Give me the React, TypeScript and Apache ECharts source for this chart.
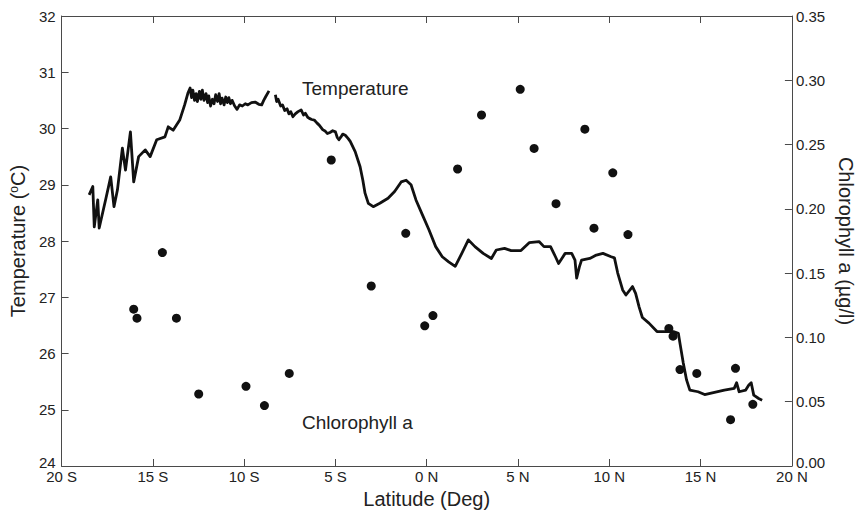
import React, { useEffect, useRef } from "react";
import * as echarts from "echarts";

// Temperature trace (latitude in degrees, negative = S; temperature in °C). null = data gap.
const tempLat = [
  -18.49, -18.29, -18.21, -18.02, -17.94, -17.57, -17.31, -17.13, -16.94, -16.67,
  -16.5, -16.23, -16.05, -15.78, -15.42, -15.15, -14.79, -14.34, -14.16, -13.89,
  -13.53, -13.26, -13.08, -12.96, -12.88, -12.81, -12.72, -12.63, -12.56, -12.45,
  -12.37, -12.29, -12.2, -12.09, -12.0, -11.94, -11.84, -11.74, -11.65, -11.56,
  -11.46, -11.37, -11.29, -11.21, -11.1, -11.01, -10.92, -10.84, -10.75, -10.66,
  -10.52, -10.39, -10.25, -10.1, -9.94, -9.8, -9.6, -9.4, -9.2, -9.04,
  -8.93, -8.83, -8.64, -8.45, -8.29, -8.22, -8.14, -8.0, -7.9, -7.78,
  -7.65, -7.55, -7.45, -7.33, -7.2, -7.05, -6.88, -6.75, -6.65, -6.52,
  -6.43, -6.3, -6.16, -6.02, -5.89, -5.7, -5.55, -5.44, -5.3, -5.15,
  -5.0, -4.9, -4.81, -4.7, -4.6, -4.46, -4.3, -4.19, -3.92, -3.65,
  -3.5, -3.38, -3.2, -2.93, -2.57, -2.12, -1.76, -1.4, -1.13, -0.86,
  -0.59, -0.23, 0.12, 0.49, 0.85, 1.2, 1.56, 1.92, 2.28, 2.64,
  3.09, 3.54, 3.81, 4.26, 4.62, 5.16, 5.61, 6.15, 6.42, 6.78,
  7.05, 7.22, 7.4, 7.58, 7.94, 8.12, 8.21, 8.36, 8.48, 8.93,
  9.29, 9.65, 10.1, 10.28, 10.46, 10.73, 10.91, 11.27, 11.44, 11.63,
  11.81, 12.17, 12.61, 13.06, 13.51, 13.78, 13.87, 14.05, 14.23, 14.41,
  14.86, 15.22, 15.76, 16.3, 16.84, 16.97, 17.11, 17.47, 17.64, 17.77,
  17.91, 18.18, 18.37,
];
const tempVal = [
  28.82, 28.97, 28.25, 28.73, 28.23, 28.76, 29.14, 28.61, 28.91, 29.65,
  29.26, 29.94, 29.05, 29.5, 29.62, 29.5, 29.8, 29.85, 30.03, 29.97,
  30.15, 30.42, 30.63, 30.72, 30.55, 30.68, 30.5, 30.62, 30.48, 30.66,
  30.52, 30.68, 30.5, 30.62, 30.46, 30.58, 30.4, 30.52, 30.44, 30.6,
  30.48, 30.62, 30.44, 30.54, 30.42, 30.56, 30.46, 30.55, 30.44, 30.5,
  30.4, 30.34, 30.42, 30.4, 30.44, 30.42, 30.46, 30.47, 30.43, 30.42,
  30.5, 30.56, 30.67, null, 30.6, 30.48, 30.52, 30.4, 30.42, 30.32,
  30.35, 30.26, 30.3, 30.21, 30.26, 30.3, 30.33, 30.24, 30.27, 30.2,
  30.18, 30.16, 30.15, 30.1, 30.06, 29.98, 29.95, 29.91, 29.93, 29.96,
  29.94, 29.84, 29.8, 29.85, 29.9, 29.88, 29.82, 29.77, 29.59, 29.32,
  29.08, 28.85, 28.67, 28.61, 28.67, 28.76, 28.88, 29.05, 29.08, 29.0,
  28.73, 28.46, 28.2, 27.9, 27.72, 27.63, 27.55, 27.78, 28.02, 27.9,
  27.78, 27.69, 27.84, 27.87, 27.83, 27.83, 27.97, 27.99, 27.9, 27.9,
  27.72, 27.6, 27.69, 27.78, 27.78, 27.66, 27.34, 27.54, 27.66, 27.69,
  27.75, 27.78, 27.72, 27.7, 27.43, 27.13, 27.04, 27.19, 27.07, 26.83,
  26.64, 26.54, 26.39, 26.39, 26.39, 26.36, 26.18, 25.83, 25.53, 25.35,
  25.32, 25.27, 25.31, 25.35, 25.38, 25.48, 25.32, 25.35, 25.44, 25.48,
  25.26, 25.2, 25.17,
];

// Chlorophyll a samples (latitude, µg/l)
const chlLat = [
  -16.05, -15.87, -14.48, -13.71, -12.49, -9.9, -8.89, -7.53, -5.23, -3.04,
  -1.15, -0.11, 0.34, 1.69, 3.0, 5.12, 5.88, 7.08, 8.66, 9.16,
  10.19, 11.02, 13.26, 13.49, 13.87, 14.79, 16.64, 16.91, 17.86,
];
const chlVal = [
  0.122, 0.115, 0.166, 0.115, 0.056, 0.062, 0.047, 0.072, 0.238, 0.14,
  0.181, 0.109, 0.117, 0.231, 0.273, 0.293, 0.247, 0.204, 0.262, 0.185,
  0.228, 0.18, 0.107, 0.101, 0.075, 0.072, 0.036, 0.076, 0.048,
];

const FONT = "'Liberation Sans', Arial, Helvetica, sans-serif";
const INK = "#111111";
const AXIS = "#4a4a4a";

function latLabel(v: number): string {
  if (v < 0) return `${-v} S`;
  return `${v} N`;
}

export default function App() {
  const ref = useRef<HTMLDivElement>(null);

  useEffect(() => {
    if (!ref.current) return;
    const chart = echarts.init(ref.current, undefined, { renderer: "svg" });

    const tempData = tempLat.map((x, i) => [x, tempVal[i]]);
    const chlData = chlLat.map((x, i) => [x, chlVal[i]]);

    const tickCommon = { show: true, inside: true, length: 7, lineStyle: { color: AXIS, width: 1 } };
    const lineCommon = { show: true, onZero: false, lineStyle: { color: AXIS, width: 1 } };

    chart.setOption({
      animation: false,
      backgroundColor: "#ffffff",
      grid: { left: 60, right: 62, top: 16, bottom: 48, containLabel: false },
      xAxis: [
        {
          type: "value",
          min: -20,
          max: 20,
          interval: 5,
          position: "bottom",
          axisLine: lineCommon,
          axisTick: tickCommon,
          splitLine: { show: false },
          axisLabel: {
            formatter: latLabel,
            fontFamily: FONT,
            fontSize: 15,
            color: "#222",
            margin: 3,
          },
          name: "Latitude (Deg)",
          nameLocation: "middle",
          nameGap: 19,
          nameTextStyle: { fontFamily: FONT, fontSize: 20, color: "#222" },
        },
        {
          type: "value",
          min: -20,
          max: 20,
          interval: 5,
          position: "top",
          axisLine: lineCommon,
          axisTick: tickCommon,
          splitLine: { show: false },
          axisLabel: { show: false },
        },
      ],
      yAxis: [
        {
          type: "value",
          min: 24,
          max: 32,
          interval: 1,
          position: "left",
          axisLine: lineCommon,
          axisTick: tickCommon,
          splitLine: { show: false },
          axisLabel: {
            formatter: (v: number) => (v === 24 ? "{lo|24}" : String(v)),
            fontFamily: FONT,
            fontSize: 15,
            color: "#222",
            margin: 6,
            rich: { lo: { fontFamily: FONT, fontSize: 15, color: "#222", padding: [0, 0, 8, 0] } },
          },
          name: "Temperature ({sup|o}C)",
          nameLocation: "middle",
          nameGap: 27,
          nameRotate: 90,
          nameTextStyle: {
            fontFamily: FONT,
            fontSize: 20,
            color: "#222",
            rich: {
              sup: { fontFamily: FONT, fontSize: 12, color: "#222", verticalAlign: "top", lineHeight: 20 },
            },
          },
        },
        {
          type: "value",
          min: 0,
          max: 0.35,
          interval: 0.05,
          position: "right",
          axisLine: lineCommon,
          axisTick: tickCommon,
          splitLine: { show: false },
          axisLabel: {
            formatter: (v: number) => (v === 0 ? "{lo|0.00}" : v.toFixed(2)),
            fontFamily: FONT,
            fontSize: 15,
            color: "#222",
            margin: 4,
            rich: { lo: { fontFamily: FONT, fontSize: 15, color: "#222", padding: [0, 0, 8, 0] } },
          },
          name: "Chlorophyll a (µg/l)",
          nameLocation: "middle",
          nameGap: 43,
          nameRotate: -90,
          nameTextStyle: { fontFamily: FONT, fontSize: 20, color: "#222" },
        },
      ],
      series: [
        {
          name: "Temperature",
          type: "line",
          xAxisIndex: 0,
          yAxisIndex: 0,
          data: tempData,
          showSymbol: false,
          symbol: "none",
          connectNulls: false,
          lineStyle: { color: INK, width: 2.8, join: "round" },
        },
        {
          name: "Chlorophyll a",
          type: "scatter",
          xAxisIndex: 0,
          yAxisIndex: 1,
          data: chlData,
          symbol: "circle",
          symbolSize: 9,
          itemStyle: { color: INK, opacity: 1 },
        },
      ],
      graphic: [
        {
          type: "text",
          left: 302,
          top: 79,
          style: { text: "Temperature", fontFamily: FONT, fontSize: 19, fill: "#222" },
        },
        {
          type: "text",
          left: 302,
          top: 413,
          style: { text: "Chlorophyll a", fontFamily: FONT, fontSize: 19, fill: "#222" },
        },
      ],
    });

    return () => chart.dispose();
  }, []);

  return (
    <div
      ref={ref}
      style={{ position: "fixed", left: 0, top: 0, width: 864, height: 514, background: "#fff" }}
    />
  );
}
